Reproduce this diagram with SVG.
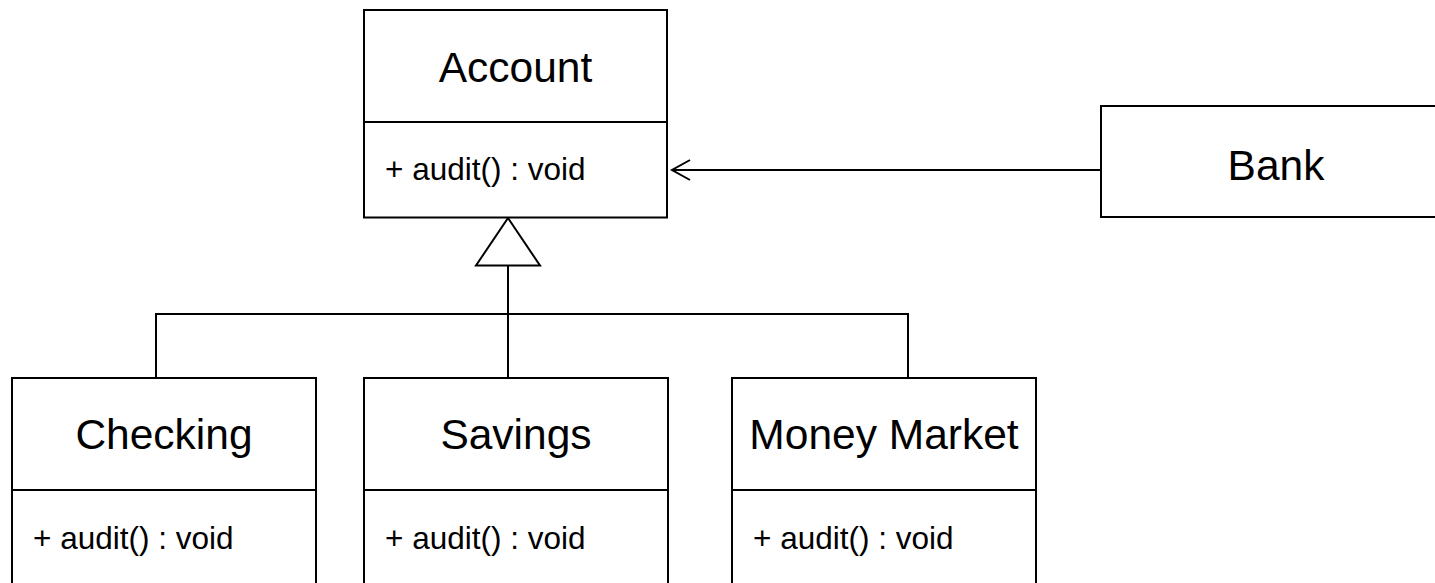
<svg xmlns="http://www.w3.org/2000/svg" width="1435" height="583" viewBox="0 0 1435 583">
  <style>
    .box { fill: #ffffff; stroke: #000000; stroke-width: 2; }
    .sep { stroke: #000000; stroke-width: 2; fill: none; }
    .edge { stroke: #000000; stroke-width: 2; fill: none; }
    .title { font-family: "Liberation Sans", Arial, sans-serif; font-size: 42.5px; fill: #000000; text-anchor: middle; }
    .member { font-family: "Liberation Sans", Arial, sans-serif; font-size: 31.5px; fill: #000000; }
  </style>
  <defs>
    <!-- open arrowhead, tip at the end of the path -->
    <marker id="open-arrow" viewBox="0 0 20 22" refX="19" refY="11" markerWidth="20" markerHeight="22" markerUnits="userSpaceOnUse" orient="auto" overflow="visible">
      <path d="M1,1 L19,11 L1,21" fill="none" stroke="#000000" stroke-width="2"/>
    </marker>
  </defs>
  <rect width="1435" height="583" fill="#ffffff"/>

  <!-- connectors -->
  <g id="connectors">
    <!-- generalization: subclasses to Account -->
    <path class="edge" d="M156,378 V314 H908 V378"/>
    <path class="edge" d="M508,378 V265.5"/>
    <polygon class="edge" points="508,218 540,265.5 476,265.5" fill="#ffffff"/>
    <!-- association: Bank to Account -->
    <line class="edge" x1="1101" y1="170" x2="672" y2="170" marker-end="url(#open-arrow)"/>
  </g>

  <!-- Account -->
  <g id="account">
    <rect class="box" x="364" y="10" width="303" height="207.5"/>
    <line class="sep" x1="364" y1="122" x2="667" y2="122"/>
    <text class="title" x="515.5" y="81.5">Account</text>
    <text class="member" x="385" y="180">+ audit() : void</text>
  </g>

  <!-- Bank -->
  <g id="bank">
    <rect class="box" x="1101" y="106" width="360" height="111"/>
    <text class="title" x="1276" y="180">Bank</text>
  </g>

  <!-- Checking -->
  <g id="checking">
    <rect class="box" x="12" y="378" width="304" height="220"/>
    <line class="sep" x1="12" y1="490" x2="316" y2="490"/>
    <text class="title" x="164" y="448.5">Checking</text>
    <text class="member" x="33" y="548.5">+ audit() : void</text>
  </g>

  <!-- Savings -->
  <g id="savings">
    <rect class="box" x="364" y="378" width="304" height="220"/>
    <line class="sep" x1="364" y1="490" x2="668" y2="490"/>
    <text class="title" x="516" y="448.5">Savings</text>
    <text class="member" x="385" y="548.5">+ audit() : void</text>
  </g>

  <!-- Money Market -->
  <g id="money-market">
    <rect class="box" x="732" y="378" width="304" height="220"/>
    <line class="sep" x1="732" y1="490" x2="1036" y2="490"/>
    <text class="title" x="884" y="448.5">Money Market</text>
    <text class="member" x="753" y="548.5">+ audit() : void</text>
  </g>
</svg>
